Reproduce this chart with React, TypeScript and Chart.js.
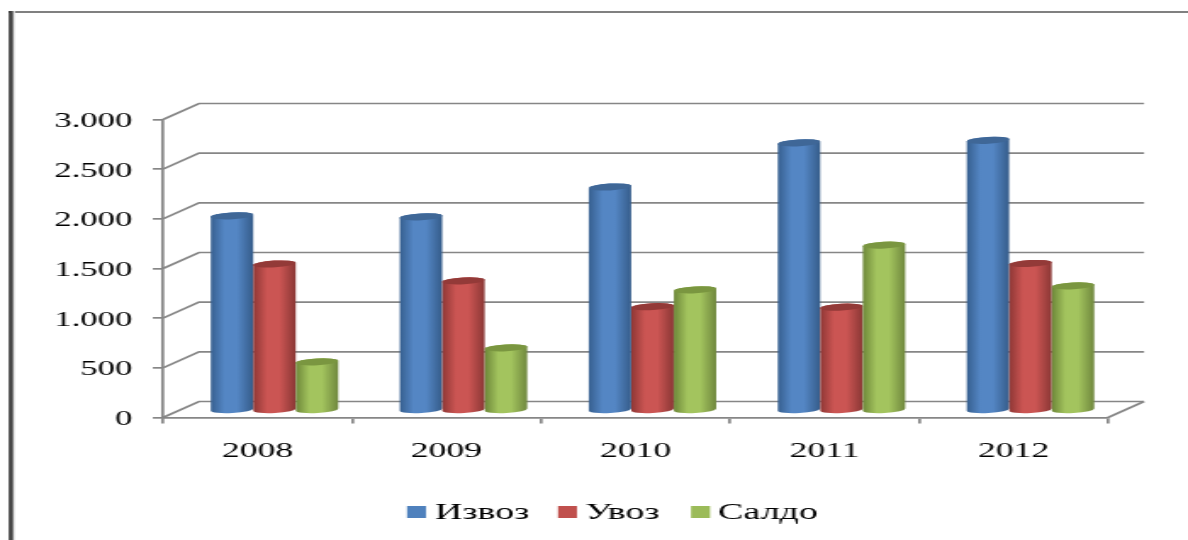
import React, { useEffect, useRef } from "react";
import { Chart, registerables } from "chart.js";

Chart.register(...registerables);

const categories = ["2008", "2009", "2010", "2011", "2012"];
const izvoz = [1960, 1950, 2250, 2695, 2720];
const uvoz = [1475, 1305, 1045, 1040, 1480];
const saldo = [490, 630, 1215, 1665, 1255];

const BLUE = "#4f81bd";
const RED = "#c0504d";
const GREEN = "#9bbb59";
const GRID = "#868686";
const SERIF = "'Liberation Serif', 'Times New Roman', serif";

// The reference is a horizontally stretched picture: the canvas is drawn narrow and shown wide.
const LOGICAL_W = 700;
const PAGE_W = 1188;
const PAGE_H = 540;
const S = PAGE_W / LOGICAL_W;
const px = (x: number) => x / S;

const DEPTH_X = px(36);
const DEPTH_Y = 16;
const BAR_DX = px(17);
const BAR_DY = 7;

const shades: Record<string, { edgeL: string; mid: string; edgeR: string; top: string }> = {
  [BLUE]: { edgeL: "#365f8f", mid: "#5486c4", edgeR: "#355c8a", top: "#3f6797" },
  [RED]: { edgeL: "#8e3735", mid: "#cb5553", edgeR: "#8a3735", top: "#933a38" },
  [GREEN]: { edgeL: "#6d8739", mid: "#a3c45e", edgeR: "#6f873d", top: "#7a9640" },
};

const framePlugin = {
  id: "frame",
  beforeDraw(chart: any) {
    const { ctx } = chart;
    ctx.save();
    ctx.fillStyle = "#ffffff";
    ctx.fillRect(0, 0, chart.width, chart.height);
    ctx.fillStyle = "#808080";
    ctx.fillRect(px(9), 11, chart.width, 2);
    const g = ctx.createLinearGradient(px(9), 0, px(15), 0);
    g.addColorStop(0, "#111111");
    g.addColorStop(0.3, "#333333");
    g.addColorStop(0.6, "#707070");
    g.addColorStop(0.85, "#d0d0d0");
    g.addColorStop(1, "#ffffff");
    ctx.fillStyle = g;
    ctx.fillRect(px(9), 11, px(6), chart.height);
    ctx.restore();
  },
};

const cylinderPlugin = {
  id: "cylinders",
  beforeDatasetsDraw(chart: any) {
    const { ctx, chartArea } = chart;
    const yScale = chart.scales.y;
    ctx.save();

    // back wall and side wall grid lines, running from the front axis to the back
    ctx.strokeStyle = GRID;
    ctx.lineWidth = 1.7;
    yScale.ticks.forEach((_: any, i: number) => {
      const y = yScale.getPixelForTick(i);
      ctx.beginPath();
      ctx.moveTo(chartArea.left, y);
      ctx.lineTo(chartArea.left + DEPTH_X, y - DEPTH_Y);
      ctx.lineTo(chartArea.right + DEPTH_X, y - DEPTH_Y);
      ctx.stroke();
    });
    ctx.beginPath();
    ctx.moveTo(chartArea.right, chartArea.bottom);
    ctx.lineTo(chartArea.right + DEPTH_X, chartArea.bottom - DEPTH_Y);
    ctx.stroke();

    // cylinders, placed from the bar elements computed by the library
    chart.data.datasets.forEach((ds: any, di: number) => {
      const shade = shades[ds.backgroundColor];
      chart.getDatasetMeta(di).data.forEach((bar: any) => {
        const cx = bar.x + BAR_DX;
        const rx = bar.width / 2;
        const ry = 3.4;
        const rot = -0.09;
        const top = bar.y - BAR_DY;
        const base = bar.base - BAR_DY;
        const g = ctx.createLinearGradient(cx - rx, 0, cx + rx, 0);
        g.addColorStop(0, shade.edgeL);
        g.addColorStop(0.32, shade.mid);
        g.addColorStop(0.62, shade.mid);
        g.addColorStop(1, shade.edgeR);
        ctx.fillStyle = g;
        ctx.beginPath();
        ctx.ellipse(cx, base, rx, ry, rot, 0, Math.PI);
        ctx.ellipse(cx, top, rx, ry, rot, Math.PI, 2 * Math.PI);
        ctx.closePath();
        ctx.fill();
        ctx.fillStyle = shade.top;
        ctx.beginPath();
        ctx.ellipse(cx, top, rx, ry, rot, 0, 2 * Math.PI);
        ctx.fill();
      });
    });
    ctx.restore();
    return false;
  },
};

const legendPlugin = {
  id: "flatLegend",
  afterDraw(chart: any) {
    const { ctx } = chart;
    const boxX = [407, 558, 691];
    const textX = [435, 585, 718];
    ctx.save();
    ctx.font = `22.4px ${SERIF}`;
    ctx.textBaseline = "middle";
    ctx.textAlign = "left";
    chart.data.datasets.forEach((ds: any, i: number) => {
      ctx.fillStyle = ds.backgroundColor;
      ctx.fillRect(px(boxX[i]), 506, px(19), 12);
      ctx.fillStyle = "#000000";
      ctx.fillText(ds.label, px(textX[i]), 513);
    });
    ctx.restore();
  },
};

export default function App() {
  const ref = useRef<HTMLCanvasElement | null>(null);

  useEffect(() => {
    document.body.style.margin = "0";
    const chart = new Chart(ref.current as HTMLCanvasElement, {
      type: "bar",
      data: {
        labels: categories,
        datasets: [
          { label: "Извоз", data: izvoz, backgroundColor: BLUE },
          { label: "Увоз", data: uvoz, backgroundColor: RED },
          { label: "Салдо", data: saldo, backgroundColor: GREEN },
        ],
      },
      options: {
        animation: false,
        responsive: false,
        devicePixelRatio: 1,
        layout: {
          autoPadding: false,
          padding: { top: 119.5, right: LOGICAL_W - px(1108), left: 0, bottom: 0 },
        },
        datasets: { bar: { barPercentage: 1, categoryPercentage: 0.675 } },
        plugins: { legend: { display: false }, tooltip: { enabled: false } },
        scales: {
          x: {
            afterFit: (s: any) => {
              s.height = 122.5;
            },
            grid: {
              offset: true,
              drawOnChartArea: false,
              drawTicks: true,
              tickLength: 6,
              color: GRID,
              lineWidth: 1.7,
            },
            border: { color: GRID, width: 1.7 },
            ticks: {
              color: "#000000",
              font: { family: SERIF, size: 21 },
              padding: 15,
              maxRotation: 0,
            },
          },
          y: {
            min: 0,
            max: 3000,
            afterFit: (s: any) => {
              s.width = px(163);
            },
            grid: {
              drawOnChartArea: false,
              drawTicks: true,
              tickLength: 6,
              color: GRID,
              lineWidth: 1.7,
            },
            border: { color: GRID, width: 1.7 },
            ticks: {
              stepSize: 500,
              color: "#000000",
              font: { family: SERIF, size: 20.5 },
              padding: 12,
              labelOffset: 2,
              callback: (v: any) => String(v).replace(/\B(?=(\d{3})+$)/g, "."),
            },
          },
        },
      },
      plugins: [framePlugin, cylinderPlugin, legendPlugin],
    } as any);
    return () => chart.destroy();
  }, []);

  return (
    <canvas
      ref={ref}
      width={LOGICAL_W}
      height={PAGE_H}
      style={{ display: "block", width: PAGE_W + "px", height: PAGE_H + "px" }}
    />
  );
}
